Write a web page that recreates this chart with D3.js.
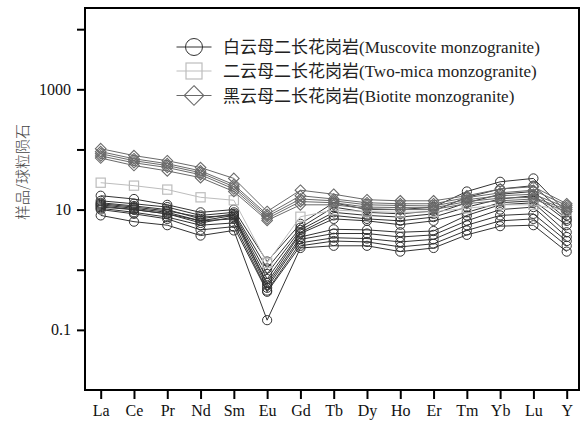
<!DOCTYPE html>
<html>
<head>
<meta charset="utf-8">
<script src="https://cdn.jsdelivr.net/npm/d3@7"></script>
<style>
  body { margin: 0; background: #fff; }
</style>
</head>
<body>
<script>
const elements = ['La', 'Ce', 'Pr', 'Nd', 'Sm', 'Eu', 'Gd', 'Tb', 'Dy', 'Ho', 'Er', 'Tm', 'Yb', 'Lu', 'Y'];
const yTicks = [0.1, 1, 10, 100, 1000, 10000];
const yLabels = [0.1, 10, 1000];

// 白云母二长花岗岩
const muscovite = [
  [17, 15, 12, 9, 10, 1.37, 5.8, 13, 10, 10, 11, 20, 29, 33, 9],
  [14, 12.5, 11, 8, 9, 1.05, 5.0, 11, 9, 8.5, 9.5, 16, 22, 25, 8],
  [13, 11.5, 10, 7, 8.5, 0.85, 4.6, 9, 8, 7.5, 8.5, 13, 18, 20, 7],
  [12, 10.5, 9, 6.5, 8, 0.7, 4.2, 8, 7, 6.5, 7.5, 11, 15, 17, 6.5],
  [11, 10, 8.5, 6, 7.5, 0.6, 4.0, 7, 6.5, 5.6, 6.5, 9, 13, 14, 5.5],
  [12.5, 11, 9.5, 7.5, 8, 0.55, 3.5, 4.7, 4.6, 4.2, 4.4, 8, 12, 13, 4.2],
  [11.5, 10, 8.5, 6.5, 7, 0.5, 3.2, 4, 4, 3.5, 3.8, 6.5, 10, 11, 3.5],
  [10.5, 9, 7.5, 5.5, 6, 0.45, 2.8, 3.4, 3.3, 2.9, 3.2, 5.5, 8, 8.5, 3.0],
  [10, 8.5, 7, 4.6, 5.2, 0.43, 2.5, 3.0, 2.9, 2.4, 2.7, 4.5, 6.5, 7, 2.5],
  [8, 6.3, 5.5, 3.7, 4.5, 0.145, 2.3, 2.5, 2.5, 2.0, 2.3, 3.8, 5.3, 5.5, 2.0],
];
// 二云母二长花岗岩
const twoMica = [
  [28, 25, 21.5, 16, 14.3, 1.3, 7.6, 9.8, 9.3, 9.0, 9.2, 10.5, 12, 12, 9.5],
];
// 黑云母二长花岗岩
const biotite = [
  [103, 79, 65, 50, 33, 9.3, 21, 18, 14.6, 14, 14, 17, 22, 24, 12.5],
  [92, 70, 58, 44, 26, 8.3, 17, 15, 13, 12.5, 12.5, 15.8, 19, 21, 11.7],
  [85, 65, 54, 41, 24, 7.7, 15, 14, 12, 11.7, 11.5, 14.6, 17, 18, 10.8],
  [78, 60, 50, 38, 22, 7.1, 13.6, 13, 11, 10.8, 10.7, 13.6, 15.5, 16, 10],
  [72, 54, 44, 34, 20, 6.6, 12, 12, 10.4, 10, 10, 12.6, 14, 15, 9.3],
];

const legendNames = [
  '白云母二长花岗岩(Muscovite monzogranite)',
  '二云母二长花岗岩(Two-mica monzogranite)',
  '黑云母二长花岗岩(Biotite monzogranite)',
];

const width = 581;
const height = 425;
const plot = { left: 85, right: 579, top: 8, bottom: 390 };
const serif = '"Liberation Serif", "Times New Roman", serif';

const groups = [
  { rows: muscovite, color: '#333333', shape: 'circle' },
  { rows: twoMica, color: '#bdbdbd', shape: 'square' },
  { rows: biotite, color: '#6a6a6a', shape: 'diamond' },
];

function main() {
  const svg = d3.select('body').append('svg').attr('width', width).attr('height', height);

  const x = d3.scalePoint().domain(elements).range([100.7, 566.7]);
  const y = d3.scaleLog().domain([0.01, 22500]).range([plot.bottom, plot.top]);

  drawAxes(svg, x, y);

  const line = d3.line().x((d, i) => x(elements[i])).y(d => y(d));

  groups.forEach(g => {
    const gEl = svg.append('g');
    g.rows.forEach(row => {
      gEl.append('path')
        .attr('d', line(row))
        .attr('fill', 'none')
        .attr('stroke', g.color)
        .attr('stroke-width', 1);
      row.forEach((v, i) => drawMarker(gEl, g.shape, x(elements[i]), y(v), 4.6, g.color));
    });
  });

  drawLegend(svg);

  svg.append('text')
    .attr('transform', 'translate(28, 172) rotate(-90)')
    .attr('text-anchor', 'middle')
    .attr('font-family', '"Noto Sans CJK SC", sans-serif')
    .attr('font-weight', 300)
    .attr('font-size', 15)
    .attr('fill', '#444')
    .text('样品/球粒陨石');
}

function drawMarker(g, shape, cx, cy, r, color) {
  if (shape === 'circle') {
    g.append('circle').attr('cx', cx).attr('cy', cy).attr('r', r)
      .attr('fill', 'none').attr('stroke', color).attr('stroke-width', 1);
  } else if (shape === 'square') {
    g.append('rect').attr('x', cx - r).attr('y', cy - r).attr('width', 2 * r).attr('height', 2 * r)
      .attr('fill', 'none').attr('stroke', color).attr('stroke-width', 1.2);
  } else {
    const s = r * 1.15;
    g.append('path')
      .attr('d', `M${cx},${cy - s}L${cx + s},${cy}L${cx},${cy + s}L${cx - s},${cy}Z`)
      .attr('fill', 'none').attr('stroke', color).attr('stroke-width', 1.1);
  }
}

function drawAxes(svg, x, y) {
  const yAxis = svg.append('g')
    .attr('transform', `translate(${plot.left}, 0)`)
    .call(d3.axisLeft(y).tickValues(yTicks).tickSize(8).tickPadding(6)
      .tickFormat(d => (yLabels.includes(d) ? String(d) : '')));

  const xAxis = svg.append('g')
    .attr('transform', `translate(0, ${plot.bottom})`)
    .call(d3.axisBottom(x).tickSize(9).tickPadding(6));

  [yAxis, xAxis].forEach(a => {
    a.attr('font-family', serif).attr('font-size', 16);
    a.select('.domain').remove();
    a.selectAll('.tick line').attr('stroke', '#000').attr('stroke-width', 2);
    a.selectAll('.tick text').attr('fill', '#111');
  });

  svg.append('rect')
    .attr('x', plot.left).attr('y', plot.top)
    .attr('width', plot.right - plot.left).attr('height', plot.bottom - plot.top)
    .attr('fill', 'none').attr('stroke', '#000').attr('stroke-width', 2);
}

function drawLegend(svg) {
  const lg = svg.append('g');
  const rowsY = [47, 71, 95.5];
  groups.forEach((g, i) => {
    const yy = rowsY[i];
    lg.append('line').attr('x1', 176.5).attr('x2', 211.5).attr('y1', yy).attr('y2', yy)
      .attr('stroke', g.color).attr('stroke-width', 1);
    drawMarker(lg, g.shape, 194, yy, g.shape === 'square' ? 8 : 8.5, g.color);
    lg.append('text')
      .attr('x', 223).attr('y', yy + 6)
      .attr('font-family', serif + ', "Noto Sans CJK SC"')
      .attr('font-size', 17)
      .attr('fill', '#222')
      .text(legendNames[i]);
  });
}

main();
</script>
</body>
</html>
